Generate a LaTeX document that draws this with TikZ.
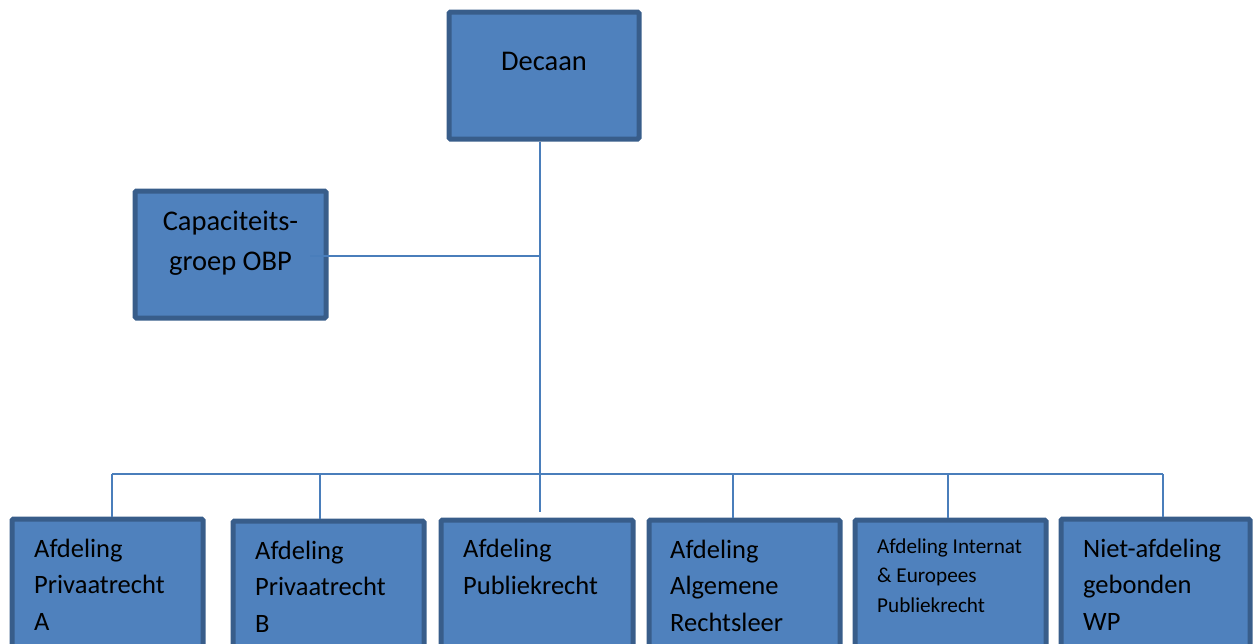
\documentclass[tikz,border=0pt]{standalone}
\usepackage{fontspec}
\setmainfont{Carlito}
\definecolor{boxfill}{HTML}{4F81BD}
\definecolor{boxline}{HTML}{385D8A}
\definecolor{connc}{HTML}{4A7EBB}
\begin{document}
\begin{tikzpicture}[x=1pt,y=-1pt,
  orgbox/.style={draw=boxline, fill=boxfill, line width=5pt, rounded corners=1.5pt, inner sep=0pt, minimum width=191pt, minimum height=127pt},
  lowbox/.style={orgbox, minimum height=130pt},
  bigtxt/.style={font=\fontsize{28.5}{40}\selectfont, inner sep=0pt, align=center, anchor=base},
  midtxt/.style={font=\fontsize{26.5}{36.5}\selectfont, inner sep=0pt, align=left, anchor=base west},
  smalltxt/.style={font=\fontsize{21.2}{29.5}\selectfont, inner sep=0pt, align=left, anchor=base west},
  connline/.style={draw=connc, line width=2pt}]
\useasboundingbox (0,0) rectangle (1253,643);
\clip (0,0) rectangle (1253,643);
% boxes
\node[orgbox, minimum width=190pt] (dec) at (544,75.5) {};
\node[orgbox] (cap) at (230.5,254.5) {};
\node[lowbox] (pa) at (107.5,584) {};
\node[lowbox] (pb) at (328.5,586) {};
\node[lowbox, minimum width=192pt] (pu) at (537,585) {};
\node[lowbox] (al) at (744.5,585) {};
\node[lowbox] (ie) at (950.5,585) {};
\node[lowbox, minimum width=189pt] (na) at (1155.5,584) {};
% texts (anchor = baseline of last line)
\node[bigtxt] (tdec) at (544,70) {Decaan};
\node[bigtxt] (tcap) at (230.5,270) {Capaciteits-\\groep OBP};
\node[midtxt] (tpa) at (34,630) {Afdeling\\Privaatrecht\\A};
\node[midtxt] (tpb) at (255,632) {Afdeling\\Privaatrecht\\B};
\node[midtxt] (tpu) at (463,594) {Afdeling\\Publiekrecht};
\node[midtxt] (tal) at (670,631) {Afdeling\\Algemene\\Rechtsleer};
\node[smalltxt] (tie) at (877,612) {Afdeling Internat\\\&~Europees\\Publiekrecht};
\node[midtxt] (tna) at (1083,630) {Niet-afdeling\\gebonden\\WP};
% connectors
\coordinate (hub) at (540,512);
\coordinate (capj) at (540,256);
\coordinate (capend) at (310,256);
\coordinate (b1) at (112,474);
\coordinate (b2) at (320,474);
\coordinate (b4) at (733,474);
\coordinate (b5) at (948,474);
\coordinate (b6) at (1163,474);
\draw[connline] (dec.south -| hub) -- (hub);
\draw[connline] (capj) -- (capend);
\draw[connline] (b1) -- (b6);
\draw[connline] (b1) -- (b1 |- pa.north);
\draw[connline] (b2) -- (b2 |- pb.north);
\draw[connline] (b4) -- (b4 |- al.north);
\draw[connline] (b5) -- (b5 |- ie.north);
\draw[connline] (b6) -- (b6 |- na.north);
\end{tikzpicture}
\end{document}
